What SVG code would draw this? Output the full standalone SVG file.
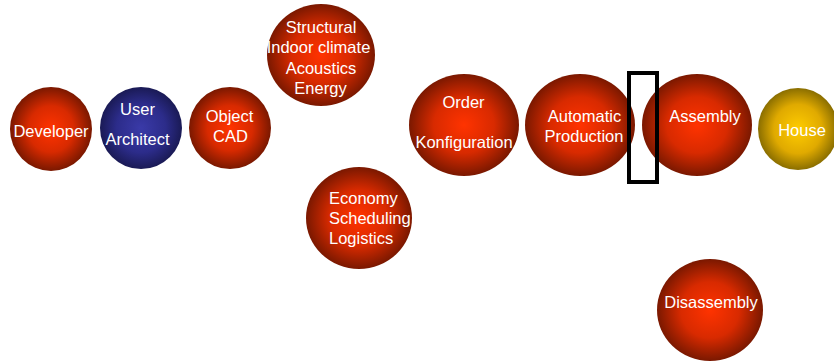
<svg xmlns="http://www.w3.org/2000/svg" width="834" height="361" viewBox="0 0 834 361">
<defs>
<radialGradient id="red" cx="50%" cy="50%" r="50%">
<stop offset="0" stop-color="#ff3300"/>
<stop offset="0.55" stop-color="#d82a00"/>
<stop offset="1" stop-color="#7a1800"/>
</radialGradient>
<radialGradient id="blue" cx="50%" cy="50%" r="50%">
<stop offset="0" stop-color="#3a3aa8"/>
<stop offset="0.6" stop-color="#2c2c8a"/>
<stop offset="1" stop-color="#1a1a55"/>
</radialGradient>
<radialGradient id="gold" cx="50%" cy="50%" r="50%">
<stop offset="0" stop-color="#ffcc00"/>
<stop offset="0.6" stop-color="#e0aa00"/>
<stop offset="1" stop-color="#8a6e00"/>
</radialGradient>
</defs>
<style>
.r{fill:url(#red)}
.b{fill:url(#blue)}
.g{fill:url(#gold)}
text{font-family:"Liberation Sans",Arial,sans-serif;font-size:16.5px;fill:#ffffff;text-anchor:middle}
</style>
<rect width="834" height="361" fill="#ffffff"/>
<g id="developer"><ellipse class="r" cx="51" cy="129" rx="41" ry="42"/><text x="51" y="137">Developer</text></g>
<g id="user-architect"><ellipse class="b" cx="141" cy="128" rx="41" ry="41"/><text x="137.5" y="115">User</text><text x="137.5" y="145">Architect</text></g>
<g id="object-cad"><ellipse class="r" cx="230" cy="128" rx="41" ry="41"/><text x="229.5" y="122">Object</text><text x="230.5" y="142">CAD</text></g>
<g id="structural"><ellipse class="r" cx="321" cy="55" rx="54" ry="51"/><text x="321" y="33">Structural</text><text x="318.5" y="53">Indoor climate</text><text x="321" y="74">Acoustics</text><text x="320.5" y="94">Energy</text></g>
<g id="economy"><ellipse class="r" cx="359" cy="218" rx="53" ry="51"/><text x="329" y="204" style="text-anchor:start">Economy</text><text x="329" y="224" style="text-anchor:start">Scheduling</text><text x="329" y="244" style="text-anchor:start">Logistics</text></g>
<g id="order"><ellipse class="r" cx="464" cy="125" rx="55" ry="51"/><text x="463.5" y="108">Order</text><text x="464" y="148">Konfiguration</text></g>
<g id="automatic-production"><ellipse class="r" cx="580" cy="125" rx="55" ry="51"/><text x="584.5" y="122">Automatic</text><text x="584" y="142">Production</text></g>
<g id="assembly"><ellipse class="r" cx="697" cy="125" rx="55" ry="51"/><text x="705" y="122">Assembly</text></g>
<g id="house"><ellipse class="g" cx="798" cy="129" rx="40" ry="41"/><text x="802" y="136">House</text></g>
<g id="disassembly"><ellipse class="r" cx="710" cy="310" rx="53" ry="51"/><text x="711" y="308">Disassembly</text></g>
<g id="connectors"><rect id="gate" x="629" y="73" width="28" height="109" fill="none" stroke="#000000" stroke-width="4"/></g>
</svg>
